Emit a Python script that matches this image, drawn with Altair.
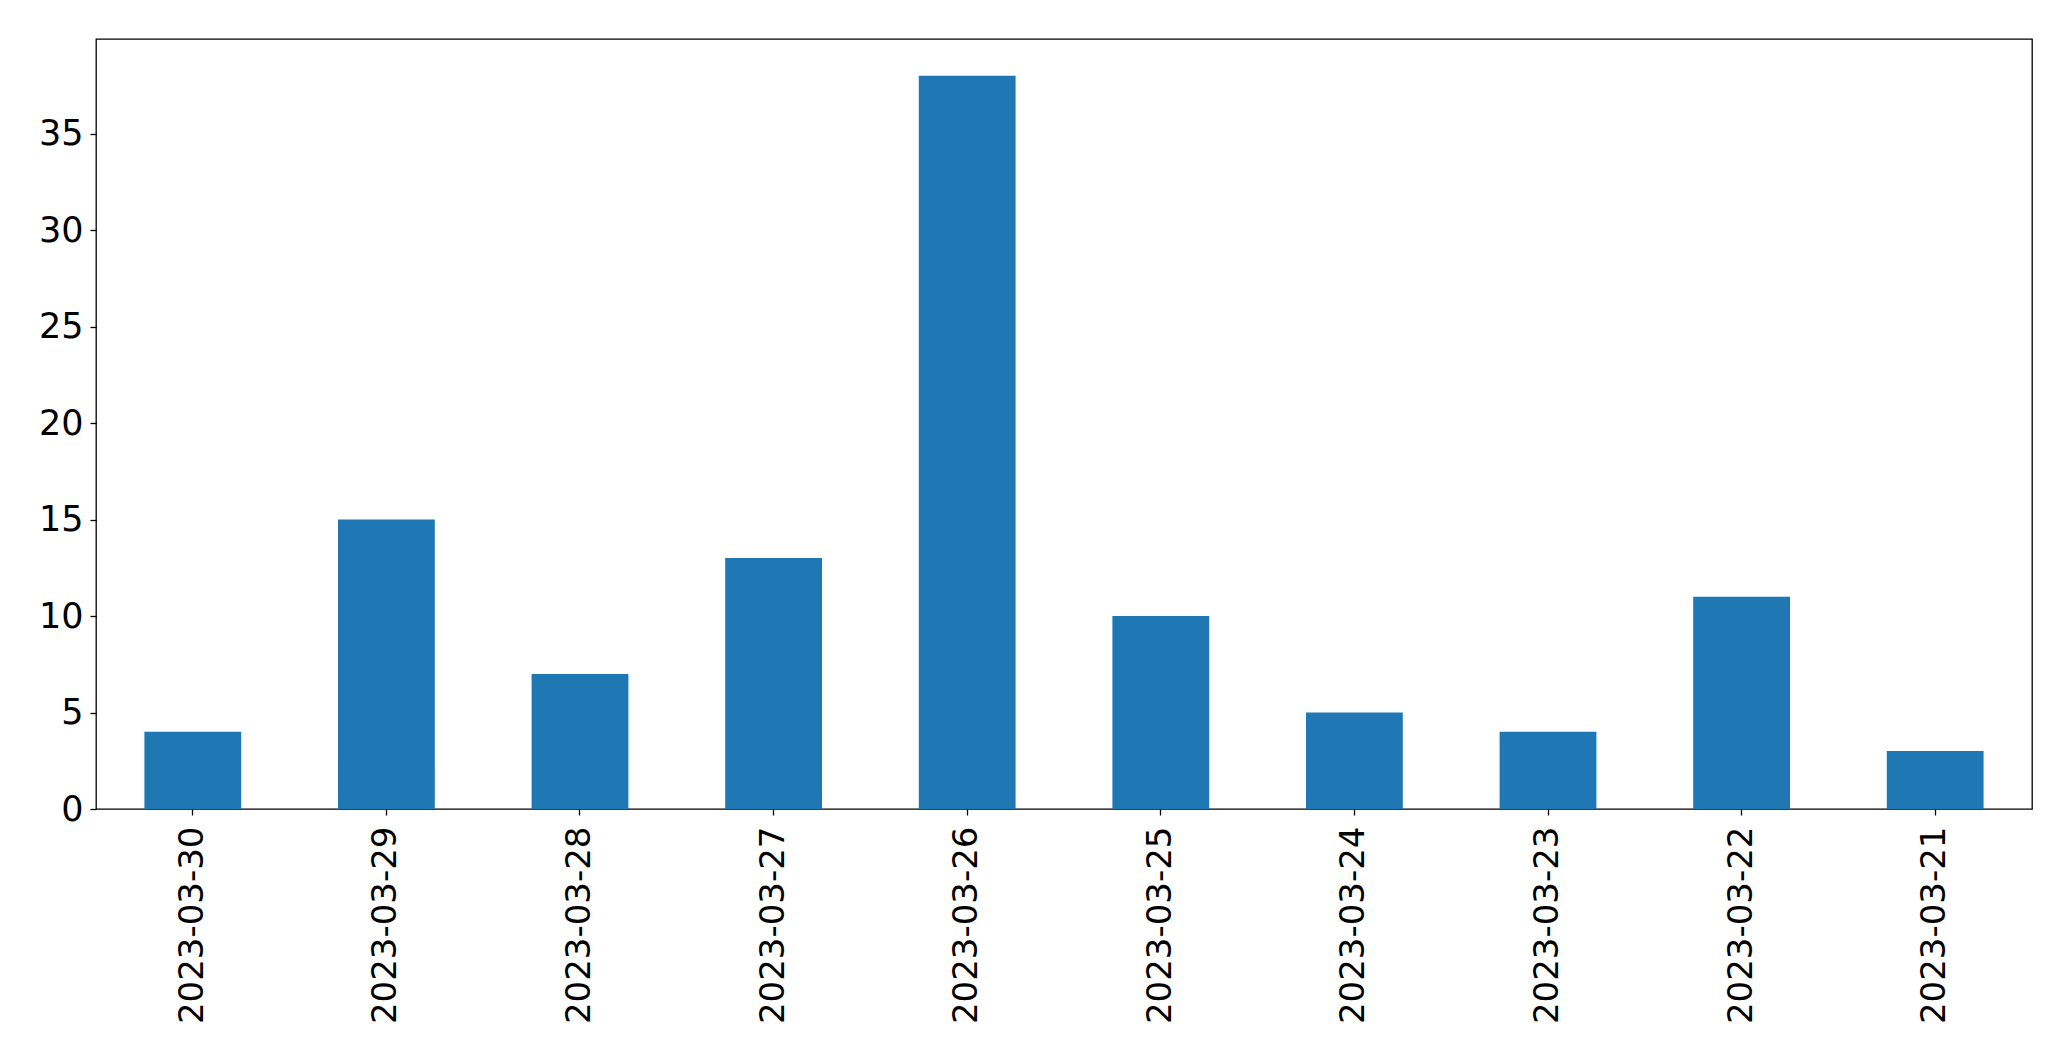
import altair as alt
import pandas as pd

dates = ["2023-03-30", "2023-03-29", "2023-03-28", "2023-03-27", "2023-03-26",
         "2023-03-25", "2023-03-24", "2023-03-23", "2023-03-22", "2023-03-21"]
counts = [4, 15, 7, 13, 38, 10, 5, 4, 11, 3]
y_ticks = [0, 5, 10, 15, 20, 25, 30, 35]

df = pd.DataFrame({"date": dates, "count": counts})

chart = alt.Chart(df).mark_bar(color="#1f77b4").encode(
    x=alt.X("date:N", sort=None, title=None,
            scale=alt.Scale(paddingInner=0.5, paddingOuter=0.25),
            axis=alt.Axis(labelAngle=-90, labelFontSize=34, labelFont="DejaVu Sans",
                          labelColor="black", tickColor="black", tickSize=6,
                          labelPadding=11, domain=False, grid=False, labelLimit=0,
                          labelBaseline="middle", labelAlign="right")),
    y=alt.Y("count:Q", title=None,
            scale=alt.Scale(domain=[0, 39.9], nice=False, zero=True),
            axis=alt.Axis(values=y_ticks, labelFontSize=35, labelFont="DejaVu Sans",
                          labelColor="black", tickColor="black", tickSize=6,
                          labelPadding=7, domain=False, grid=False)),
).properties(
    width=1936, height=770,
    padding={"left": 30, "top": 31, "right": 10, "bottom": 10},
).configure_view(
    stroke="black", strokeWidth=1.3
).configure_axis(
    tickWidth=1.3
)

chart.save("out.html", embed_options={"renderer": "svg", "actions": False})
